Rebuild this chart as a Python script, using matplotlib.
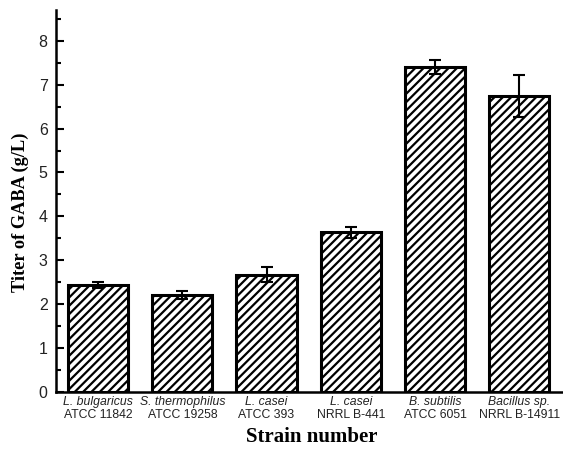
import matplotlib
matplotlib.use("Agg")
import matplotlib.pyplot as plt  # noqa: E402
import matplotlib.transforms as mtransforms  # noqa: E402
from matplotlib.ticker import MultipleLocator  # noqa: E402

species = ["L. bulgaricus", "S. thermophilus", "L. casei", "L. casei", "B. subtilis", "Bacillus sp."]
strains = ["ATCC 11842", "ATCC 19258", "ATCC 393", "NRRL B-441", "ATCC 6051", "NRRL B-14911"]
titer = [2.43, 2.20, 2.67, 3.63, 7.41, 6.75]
titer_err = [0.07, 0.09, 0.17, 0.12, 0.16, 0.48]

plt.rcParams["hatch.linewidth"] = 1.6

fig = plt.figure(figsize=(5.63, 4.5), dpi=100)
ax = fig.add_axes([0.0995, 0.130, 0.905, 0.848])

x = list(range(len(titer)))
ax.bar(x, titer, width=0.714, color="white", edgecolor="black",
       linewidth=2.2, hatch="////", zorder=2)
ax.errorbar(x, titer, yerr=titer_err, fmt="none", ecolor="black",
            elinewidth=1.5, capsize=4, capthick=1.5, zorder=3)

ax.set_xlim(-0.5, 5.55)
ax.set_ylim(0, 8.71)
ax.yaxis.set_major_locator(MultipleLocator(1))
ax.yaxis.set_minor_locator(MultipleLocator(0.5))
ax.tick_params(axis="y", which="major", direction="in", length=6, width=1.5,
               labelsize=11.5, pad=6, labelcolor="#222222")
ax.tick_params(axis="y", which="minor", direction="in", length=3.5, width=1.5)
for lab in ax.get_yticklabels():
    lab.set_fontfamily("Liberation Sans")

ax.set_xticks(x)
ax.set_xticklabels([])
ax.tick_params(axis="x", length=0)

for side in ("top", "right"):
    ax.spines[side].set_visible(False)
for side in ("left", "bottom"):
    ax.spines[side].set_linewidth(1.8)

# two-line category labels under each bar
trans = mtransforms.blended_transform_factory(ax.transData, fig.transFigure)
for xi, sp, st in zip(x, species, strains):
    ax.text(xi, 0.1067, sp, transform=trans, ha="center", va="center",
            fontsize=8.8, style="italic", family="Liberation Sans", color="#222222")
    ax.text(xi, 0.0778, st, transform=trans, ha="center", va="center",
            fontsize=8.8, family="Liberation Sans", color="#222222")

fig.text(0.553, 0.029, "Strain number", ha="center", va="center",
         fontsize=15, fontweight="bold", family="Liberation Serif")
fig.text(0.036, 0.529, "Titer of GABA (g/L)", ha="center", va="center",
         rotation=90, fontsize=13.2, fontweight="bold", family="Liberation Serif")

fig.savefig("out.png", dpi=100)
